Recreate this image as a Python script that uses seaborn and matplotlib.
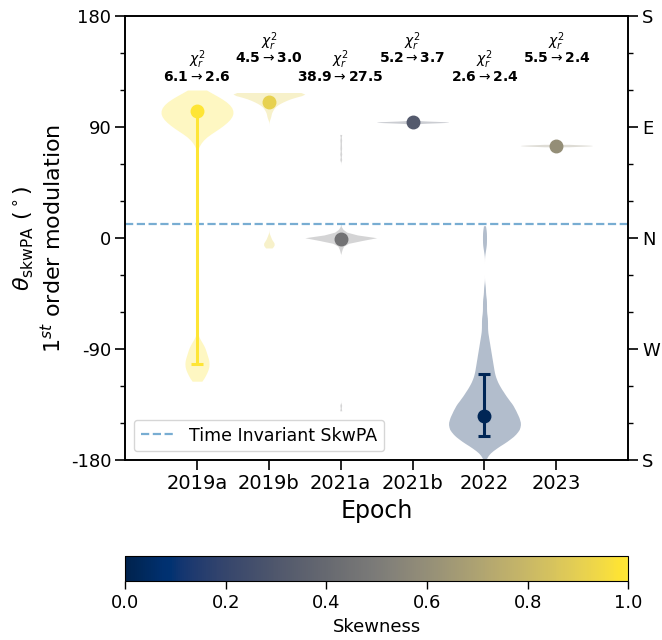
import numpy as np
import pandas as pd
import matplotlib
matplotlib.use("Agg")
import matplotlib.pyplot as plt
from matplotlib.ticker import MultipleLocator
from matplotlib.colors import Normalize
from matplotlib.cm import ScalarMappable
import seaborn as sns

# ---- data -------------------------------------------------------------
epochs = ["2019a", "2019b", "2021a", "2021b", "2022", "2023"]
skewness = [0.99, 0.91, 0.45, 0.32, 0.02, 0.60]

# best-fit skew position angle and its asymmetric uncertainty (deg)
theta_best = [103, 110, -1, 94, -144, 75]
theta_err_lo = [205, 0, 0, 0, 16.5, 0]
theta_err_hi = [0, 0, 0, 0, 34, 0]

# reduced chi-square before -> after adding the first order modulation
chi2_before = [6.1, 4.5, 38.9, 5.2, 2.6, 5.5]
chi2_after = [2.6, 3.0, 27.5, 3.7, 2.4, 2.4]

time_invariant_pa = 11.5

# posterior histograms of theta (bin centre, counts) per epoch
post_2019a_val = [120, 116, 112, 108, 104, 100, 96, 92, 88, 84, 80, 76,
                  -82, -86, -90, -94, -98, -102, -106, -110, -114, -116]
post_2019a_cnt = [3, 6, 9, 11, 12, 12, 11, 9, 7, 4, 2, 1,
                  1, 2, 3, 3, 4, 4, 4, 3, 2, 1]

post_2019b_val = [118, 116, 113, 110, 107, 104, 101, 98,
                  1, -2, -4, -6, -8]
post_2019b_cnt = [16, 14, 10, 6, 3, 2, 1, 1,
                  1, 1, 2, 2, 1]

post_2021a_val = [84, 80, 76, 72, 68, 64,
                  8, 6, 4, 2, 0, -2, -4, -6, -8, -10, -136, -140]
post_2021a_cnt = [1, 1, 1, 1, 1, 1,
                  1, 2, 5, 12, 30, 12, 5, 2, 1, 1, 1, 1]

post_2021b_val = [92.5, 93.5, 94.0, 94.5, 95.5]
post_2021b_cnt = [1, 4, 8, 4, 1]

post_2022_val = [10, 5, 0, -5, -10,
                 -40, -45, -50, -55, -60, -65, -70, -75, -80, -85, -90,
                 -95, -100, -105, -110, -115, -120, -125, -130, -135,
                 -140, -145, -150, -155, -160, -165, -170, -175, -180]
post_2022_cnt = [1, 2, 2, 2, 1,
                 1, 1, 2, 2, 2, 3, 3, 3, 4, 5, 6,
                 7, 8, 9, 10, 12, 15, 19, 23, 28,
                 31, 34, 36, 35, 30, 22, 12, 4, 1]

post_2023_val = [74.0, 74.5, 75.0, 75.5, 76.0]
post_2023_cnt = [1, 4, 8, 4, 1]

posteriors = {
    "2019a": (post_2019a_val, post_2019a_cnt),
    "2019b": (post_2019b_val, post_2019b_cnt),
    "2021a": (post_2021a_val, post_2021a_cnt),
    "2021b": (post_2021b_val, post_2021b_cnt),
    "2022": (post_2022_val, post_2022_cnt),
    "2023": (post_2023_val, post_2023_cnt),
}
# kernel width (deg) used for each violin
kde_width = {"2019a": 3.5, "2019b": 2.0, "2021a": 1.2,
             "2021b": 0.5, "2022": 3.0, "2023": 0.5}

# ---- figure -----------------------------------------------------------
sns.set_style("ticks", {"axes.edgecolor": "black", "xtick.color": "black",
                        "ytick.color": "black", "text.color": "black",
                        "axes.labelcolor": "black"})
plt.rcParams["font.family"] = ["DejaVu Sans"]

cmap = plt.get_cmap("cividis")
fig = plt.figure(figsize=(6.62, 6.40), dpi=100)
ax = fig.add_axes([0.189, 0.281, 0.760, 0.694])

for ep, sk in zip(epochs, skewness):
    vals, cnts = posteriors[ep]
    samples = np.repeat(np.asarray(vals, float), cnts)
    df = pd.DataFrame({"epoch": ep, "theta": samples})
    factor = kde_width[ep] / np.std(samples, ddof=1)
    sns.violinplot(data=df, x="epoch", y="theta", order=epochs,
                   color=cmap(sk), saturation=1, inner=None, cut=0,
                   density_norm="width", width=1.0, linewidth=0,
                   bw_method=factor, alpha=0.3, ax=ax)

ax.axhline(time_invariant_pa, color="C0", alpha=0.6, ls="--", lw=1.6,
           zorder=2, label="Time Invariant SkwPA")

for i, ep in enumerate(epochs):
    c = cmap(skewness[i])
    ax.errorbar(i, theta_best[i],
                yerr=[[theta_err_lo[i]], [theta_err_hi[i]]],
                fmt="o", color=c, ms=9, elinewidth=2.2, capsize=4.5,
                capthick=2.2, zorder=4)

# chi-square annotations, alternating height
for i in range(len(epochs)):
    y_val = 130.8 if i % 2 == 0 else 145.7
    ax.text(i, y_val + 13.8, r"$\chi_r^2$", ha="center", va="center",
            fontsize=10)
    ax.text(i, y_val, f"{chi2_before[i]:.1f}" + r"$\rightarrow$" +
            f"{chi2_after[i]:.1f}", ha="center", va="center",
            fontsize=10, fontweight="bold")

ax.set_xlim(-1, 6)
ax.set_ylim(-180, 180)
ax.set_xticks(range(len(epochs)))
ax.set_xticklabels(epochs, fontsize=14)
ax.set_yticks([-180, -90, 0, 90, 180])
ax.set_yticklabels(["-180", "-90", "0", "90", "180"], fontsize=13)
ax.yaxis.set_minor_locator(MultipleLocator(30))
ax.set_xlabel("Epoch", fontsize=17)
ax.set_ylabel(r"$\theta_{\rm skwPA}$ $(^\circ)$" + "\n" +
              r"1$^{st}$ order modulation", fontsize=16)
ax.tick_params(axis="both", which="major", length=7, width=1.2, pad=3)
ax.tick_params(axis="y", which="minor", length=3.5, width=1.0)
for sp in ax.spines.values():
    sp.set_linewidth(1.2)
    sp.set_visible(True)

ax.legend(loc="lower left", fontsize=12.5)

# compass directions on the right side
ax2 = ax.twinx()
ax2.set_ylim(-180, 180)
ax2.set_yticks([-180, -90, 0, 90, 180])
ax2.set_yticklabels(["S", "W", "N", "E", "S"], fontsize=13)
ax2.yaxis.set_minor_locator(MultipleLocator(30))
ax2.tick_params(axis="y", which="major", length=7, width=1.2, pad=3)
ax2.tick_params(axis="y", which="minor", length=3.5, width=1.0)
for sp in ax2.spines.values():
    sp.set_linewidth(1.2)
    sp.set_visible(True)

# skewness colour bar
cax = fig.add_axes([0.189, 0.092, 0.760, 0.039])
sm = ScalarMappable(norm=Normalize(0, 1), cmap=cmap)
cb = fig.colorbar(sm, cax=cax, orientation="horizontal")
cb.set_ticks([0.0, 0.2, 0.4, 0.6, 0.8, 1.0])
cb.ax.tick_params(labelsize=13, length=6, width=1.0)
cb.set_label("Skewness", fontsize=13)
cb.outline.set_linewidth(0.8)

fig.savefig("out.png", dpi=100)
